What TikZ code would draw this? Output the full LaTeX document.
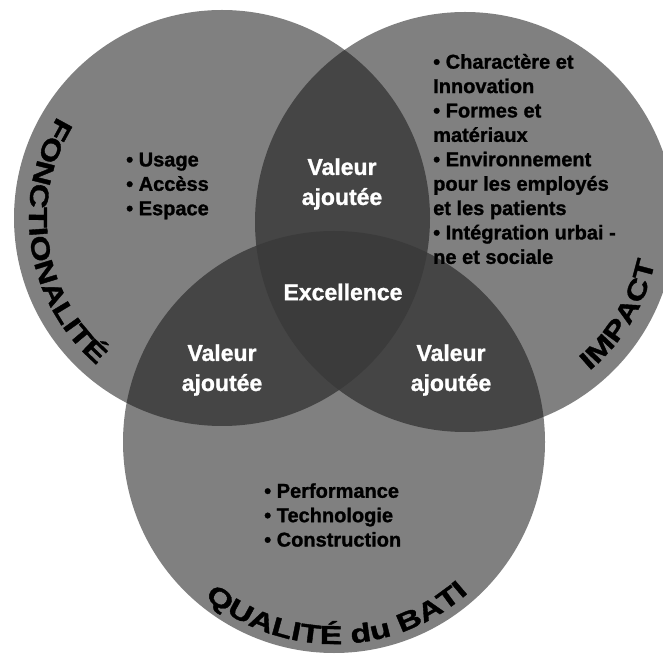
\documentclass[tikz,border=0pt]{standalone}
\usepackage{fontspec}
\setmainfont{Liberation Sans}
\newfontfamily\arcfont[FakeStretch=1.3,FakeBold=1.4]{Liberation Sans Bold}
\newfontfamily\listfont[FakeBold=1.2]{Liberation Sans Bold}
\usetikzlibrary{decorations.text}
\definecolor{ringGray}{gray}{0.50}
\definecolor{lensGray}{gray}{0.27}
\definecolor{coreGray}{gray}{0.23}

\begin{document}
\begin{tikzpicture}[
  x=1pt, y=1pt,
  line cap=round, line join=round,
  ring/.style={fill=ringGray},
  lens/.style={fill=lensGray},
  core/.style={fill=coreGray},
  list text/.style={text=black, align=left, inner sep=0pt, anchor=west,
    font=\listfont\fontsize{20}{24.4}\selectfont},
  value text/.style={text=white, align=center, inner sep=0pt,
    font=\listfont\fontsize{23}{30}\selectfont},
  arc label/.style={decorate, decoration={text along path, text align=center,
    text={|\arcfont\fontsize{26}{26}\selectfont|#1}}}
]
\useasboundingbox (0,0) rectangle (663,656);

\coordinate (fonc) at (222,438);
\coordinate (imp) at (465,434);
\coordinate (qual) at (334,214);

% The three rings, then the pairwise lenses, then the common core.
\fill[ring] (fonc) circle[radius=208];
\fill[ring] (imp) circle[radius=210];
\fill[ring] (qual) circle[radius=211];
\begin{scope}
  \clip (fonc) circle[radius=208];
  \fill[lens] (imp) circle[radius=210];
  \fill[lens] (qual) circle[radius=211];
\end{scope}
\begin{scope}
  \clip (imp) circle[radius=210];
  \fill[lens] (qual) circle[radius=211];
\end{scope}
\begin{scope}
  \clip (fonc) circle[radius=208];
  \clip (imp) circle[radius=210];
  \fill[core] (qual) circle[radius=211];
\end{scope}

% Labels that follow the rims.
\path[arc label={FONCTIONALITÉ}]
  (fonc) ++(129:193) arc[start angle=129, end angle=249, radius=193];
\path[arc label={IMPACT}]
  (imp) ++(-71:194) arc[start angle=-71, end angle=9, radius=194];
\path[arc label={QUALITÉ du BATI}]
  (qual) ++(-154:202) arc[start angle=-154, end angle=-24, radius=202];

% Texts inside.
\node[value text] (va top) at (342,472) {Valeur\\ajoutée};
\node[value text] (excellence) at (343,364) {Excellence};
\node[value text] (va left) at (222,286) {Valeur\\ajoutée};
\node[value text] (va right) at (451,286) {Valeur\\ajoutée};

\node[list text] (fonc list) at (126,470)
  {• Usage\\• Accèss\\• Espace};
\node[list text] (imp list) at (433,497)
  {• Charactère et\\Innovation\\• Formes et\\matériaux\\• Environnement\\
   pour les employés\\et les patients\\• Intégration urbai -\\ne et sociale};
\node[list text] (qual list) at (264,141)
  {• Performance\\• Technologie\\• Construction};
\end{tikzpicture}
\end{document}
